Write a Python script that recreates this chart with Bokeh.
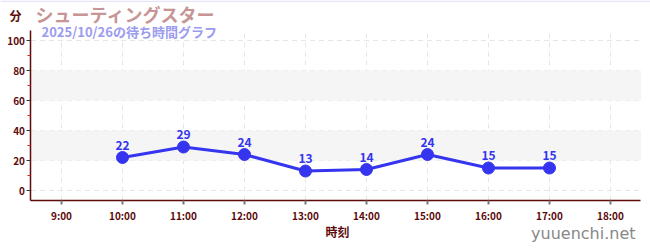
from bokeh.plotting import figure
from bokeh.models import (ColumnDataSource, BoxAnnotation, Label, LabelSet,
                          FixedTicker)
from bokeh.core.properties import value
from bokeh.embed import file_html
from bokeh.resources import INLINE

# wait times by hour of day
hours = [10, 11, 12, 13, 14, 15, 16, 17]
waits = [22, 29, 24, 13, 14, 24, 15, 15]
hour_ticks = [9, 10, 11, 12, 13, 14, 15, 16, 17, 18]
hour_labels = ["9:00", "10:00", "11:00", "12:00", "13:00", "14:00",
               "15:00", "16:00", "17:00", "18:00"]
y_ticks = [0, 20, 40, 60, 80, 100]
y_minor = [10, 30, 50, 70, 90]

title_text = "シューティングスター"
subtitle_text = "2025/10/26の待ち時間グラフ"
FONT = "Noto Sans CJK JP"
AXIS_COLOR = "#5c0a0a"
LINE_COLOR = "#3535f0"

# plotting area limits (data units) and the full canvas extent
X_LO, X_HI = 8.5, 18.5
Y_LO, Y_HI = -6.667, 106.667

src = ColumnDataSource(dict(x=hours, y=waits, t=[str(v) for v in waits]))

# the frame fills the whole canvas; axes sit at fixed data locations so
# the captions around the chart share the same drawing surface
p = figure(width=650, height=250, output_backend="svg", toolbar_location=None,
           x_range=(8.0, 18.656), y_range=(-40.0, 126.667),
           min_border=0)
p.outline_line_color = None
p.background_fill_color = "white"
p.border_fill_color = "white"
p.grid.visible = False

# shaded bands
for lo, hi in [(20, 40), (60, 80)]:
    p.add_layout(BoxAnnotation(left=X_LO, right=X_HI, bottom=lo, top=hi,
                               fill_color="#f5f5f5", fill_alpha=1.0,
                               line_color=None, level="underlay"))

# dashed grid lines at the tick positions
p.segment(x0=hour_ticks, x1=hour_ticks, y0=[Y_LO] * len(hour_ticks),
          y1=[Y_HI] * len(hour_ticks), line_color="#e6e6e6", line_width=1,
          line_dash="5 4", level="underlay")
p.segment(x0=[X_LO] * len(y_ticks), x1=[X_HI] * len(y_ticks), y0=y_ticks,
          y1=y_ticks, line_color="#e6e6e6", line_width=1,
          line_dash="5 4", level="underlay")

# x axis
xa = p.xaxis[0]
xa.fixed_location = Y_LO
xa.bounds = (X_LO, X_HI)
xa.ticker = FixedTicker(ticks=hour_ticks)
xa.major_label_overrides = {t: l for t, l in zip(hour_ticks, hour_labels)}
xa.axis_line_color = AXIS_COLOR
xa.axis_line_width = 1.5
xa.major_tick_line_color = "#777777"
xa.major_tick_line_width = 2
xa.major_tick_in = 0
xa.major_tick_out = 4
xa.minor_tick_line_color = None
xa.major_label_text_color = AXIS_COLOR
xa.major_label_text_font = FONT
xa.major_label_text_font_size = "10px"
xa.major_label_text_font_style = "bold"
xa.major_label_standoff = 3

# y axis
ya = p.yaxis[0]
ya.fixed_location = X_LO
ya.bounds = (Y_LO, Y_HI)
ya.ticker = FixedTicker(ticks=y_ticks, minor_ticks=y_minor)
ya.axis_line_color = AXIS_COLOR
ya.axis_line_width = 1.5
ya.major_tick_line_color = "#333333"
ya.major_tick_in = 0
ya.major_tick_out = 4
ya.minor_tick_line_color = "#dd2222"
ya.minor_tick_in = 0
ya.minor_tick_out = 3
ya.major_label_text_color = AXIS_COLOR
ya.major_label_text_font = FONT
ya.major_label_text_font_size = "10px"
ya.major_label_text_font_style = "bold"
ya.major_label_standoff = 2

# series
p.line("x", "y", source=src, line_color=LINE_COLOR, line_width=3)
p.scatter("x", "y", source=src, size=12, fill_color=LINE_COLOR,
          line_color=LINE_COLOR)
p.add_layout(LabelSet(x="x", y="y", text="t", source=src, y_offset=8,
                      text_align="center", text_color=LINE_COLOR,
                      text_font=value(FONT), text_font_size="12px",
                      text_font_style="bold"))

# titles and captions, positioned in canvas pixels
def caption(x, y, text, color, size, align="left", style="bold", font=FONT):
    p.add_layout(Label(x=x, y=y, x_units="canvas", y_units="canvas",
                       text=text, text_color=color, text_font=font,
                       text_font_size=size, text_font_style=style,
                       text_align=align, text_baseline="middle"))

caption(9, 15, "分", AXIS_COLOR, "12px")
caption(35, 13, title_text, "#c79595", "18px")
caption(41, 31, subtitle_text, "#9b9bf0", "13px")
caption(337, 231, "時刻", AXIS_COLOR, "12px", align="center")
caption(635, 233, "yuuenchi.net", "#888888", "16px", align="right",
        style="normal", font="DejaVu Sans")

# thin rule along the top edge
p.add_layout(BoxAnnotation(left=0, right=650, top=0, bottom=1.5,
                           left_units="canvas", right_units="canvas",
                           top_units="canvas", bottom_units="canvas",
                           fill_color="#e4e4fa", fill_alpha=1.0,
                           line_color=None))

open("out.html", "w").write(file_html(p, INLINE))
